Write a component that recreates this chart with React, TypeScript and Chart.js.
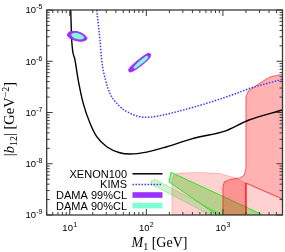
import React, { useEffect, useRef } from 'react';
import { Chart, registerables } from 'chart.js';
Chart.register(...registerables);

// ---- axis ranges & ticks ----
const xMin = 5, xMax = 6000;
const yMin = 1e-9, yMax = 1e-5;
const xDecades = [10, 100, 1000];
const xDecadeExps = ['1', '2', '3'];
const yDecades = [1e-9, 1e-8, 1e-7, 1e-6, 1e-5];
const yDecadeExps = ['-9', '-8', '-7', '-6', '-5'];

// ---- XENON100 (M1 [GeV], |b12| [GeV^-2]) ----
const xenonM = [10.3, 10.6, 11.7, 12.9, 15.0, 18.4, 22.5, 30.4, 45, 61, 101, 185, 372, 502, 1010, 2190, 6000];
const xenonB = [1e-5, 2.6e-6, 1.06e-6, 4.3e-7, 1.51e-7, 6.15e-8, 3.37e-8, 2.15e-8, 1.64e-8, 1.55e-8, 1.69e-8, 2.15e-8, 3.0e-8, 3.37e-8, 4.22e-8, 7.14e-8, 1.12e-7];

// ---- KIMS ----
const kimsM = [22.5, 24.8, 26.1, 29.3, 33.5, 43.1, 61.2, 101, 166, 304, 614, 1510, 2260, 6000];
const kimsB = [1e-5, 2.6e-6, 1.06e-6, 4.3e-7, 2.37e-7, 1.4e-7, 9.65e-8, 8.06e-8, 8.94e-8, 1.12e-7, 1.51e-7, 2.37e-7, 2.97e-7, 4.45e-7];

// ---- DAMA contours (two islands) ----
const dama99aM = [9.29, 9.78, 11.4, 13.6, 15.8, 16.8, 15.8, 13.6, 11.4, 9.78, 9.29];
const dama99aB = [3.25e-6, 3.67e-6, 3.84e-6, 3.64e-6, 3.18e-6, 2.78e-6, 2.54e-6, 2.46e-6, 2.60e-6, 2.90e-6, 3.25e-6];
const dama90aM = [10.5, 11.4, 12.8, 14.5, 15.3, 14.5, 12.4, 11.0, 10.5];
const dama90aB = [3.33e-6, 3.52e-6, 3.48e-6, 3.18e-6, 2.90e-6, 2.72e-6, 2.74e-6, 2.97e-6, 3.33e-6];
const dama99bM = [58.5, 61.2, 73.3, 90.5, 105, 113, 112, 99, 82.6, 69, 61.2, 58.5];
const dama99bB = [6.61e-7, 7.55e-7, 9.67e-7, 1.24e-6, 1.42e-6, 1.39e-6, 1.21e-6, 9.88e-7, 7.91e-7, 6.61e-7, 6.17e-7, 6.61e-7];
const dama90bM = [68, 75.5, 90.5, 102, 105, 96, 82.6, 71.1, 68];
const dama90bB = [7.55e-7, 9.04e-7, 1.13e-6, 1.27e-6, 1.18e-6, 1.01e-6, 8.45e-7, 7.22e-7, 7.55e-7];

// ---- shaded regions ----
const redM = [2470, 3050, 4120, 6000, 6000, 2000, 2000, 1000, 1000, 1040, 1240, 1670, 1900, 1990, 2000, 2000, 2150, 2470];
const redB = [3.0e-7, 3.77e-7, 4.93e-7, 5.6e-7, 2.05e-9, 4.2e-9, 1e-9, 1e-9, 3.4e-9, 4.4e-9, 4.95e-9, 5.3e-9, 6.0e-9, 8e-9, 1.1e-8, 2.0e-7, 2.65e-7, 3.0e-7];
const pinkM = [216, 216, 226, 252, 502, 916, 1440, 2000, 6000, 6000, 216];
const pinkB = [1e-9, 4.6e-9, 5.9e-9, 6.51e-9, 6.75e-9, 6.45e-9, 5.27e-9, 4.2e-9, 2.05e-9, 1e-9, 1e-9];
const greenM = [210, 3340, 837, 198, 210];
const greenB = [6.8e-9, 1e-9, 1e-9, 4.4e-9, 6.8e-9];
const paleGreenM = [115, 130, 990, 678, 115, 115];
const paleGreenB = [4.6e-9, 4.93e-9, 1e-9, 1e-9, 4.03e-9, 4.6e-9];

const legendLabels = ['XENON100', 'KIMS', 'DAMA 99%CL', 'DAMA 90%CL'];

const FRAME = '#3a3a3a';
const SANS = '"Liberation Sans", Arial, sans-serif';
const SERIF = '"Liberation Serif", "Times New Roman", serif';
const PURPLE = '#9b30ff';
const AQUA = '#7fffd4';
const KIMS_BLUE = '#3a3aff';

const pts = (xs: number[], ys: number[]) => xs.map((v, i) => ({ x: v, y: ys[i] }));

function drawPow(ctx: CanvasRenderingContext2D, base: string, exp: string, x: number, baseline: number, align: 'right' | 'center') {
  ctx.font = `9.5px ${SANS}`;
  const wb = ctx.measureText(base).width;
  ctx.font = `7px ${SANS}`;
  const we = ctx.measureText(exp).width;
  const total = wb + we + 0.3;
  const x0 = align === 'right' ? x - total : x - total / 2;
  ctx.textAlign = 'left';
  ctx.textBaseline = 'alphabetic';
  ctx.font = `9.5px ${SANS}`;
  ctx.fillText(base, x0, baseline);
  ctx.font = `7px ${SANS}`;
  ctx.fillText(exp, x0 + wb + 0.3, baseline - 4);
}

const decor = {
  id: 'decor',
  afterDraw(chart: any) {
    const ctx: CanvasRenderingContext2D = chart.ctx;
    const { left, right, top, bottom } = chart.chartArea;
    const xs = chart.scales.x;
    const ys = chart.scales.y;
    ctx.save();
    ctx.strokeStyle = FRAME;
    ctx.lineWidth = 1;
    // x ticks (top & bottom)
    for (let d = 1; d <= 1000; d *= 10) {
      for (let k = 1; k <= 9; k++) {
        const v = k * d;
        if (v < xMin || v > xMax) continue;
        const px = xs.getPixelForValue(v);
        const len = k === 1 ? 6 : 3;
        ctx.beginPath();
        ctx.moveTo(px, bottom); ctx.lineTo(px, bottom - len);
        ctx.moveTo(px, top); ctx.lineTo(px, top + len);
        ctx.stroke();
      }
    }
    // y ticks (left & right)
    for (let d = 1e-9; d <= 1.5e-5; d *= 10) {
      for (let k = 1; k <= 9; k++) {
        const v = k * d;
        if (v < yMin * 0.999 || v > yMax * 1.001) continue;
        const py = ys.getPixelForValue(v);
        const len = k === 1 ? 6 : 3;
        ctx.beginPath();
        ctx.moveTo(left, py); ctx.lineTo(left + len, py);
        ctx.moveTo(right, py); ctx.lineTo(right - len, py);
        ctx.stroke();
      }
    }
    // frame
    ctx.lineWidth = 1.3;
    ctx.strokeRect(left, top, right - left, bottom - top);

    // tick labels
    ctx.fillStyle = '#000';
    yDecades.forEach((v, i) => {
      const py = ys.getPixelForValue(v);
      drawPow(ctx, '10', yDecadeExps[i], 42.5, py + 3.4, 'right');
    });
    xDecades.forEach((v, i) => {
      const px = xs.getPixelForValue(v);
      drawPow(ctx, '10', xDecadeExps[i], px, 231, 'center');
    });

    // x title: M_1 [GeV]
    {
      let cx = 131.5;
      const by = 247;
      ctx.textAlign = 'left';
      ctx.textBaseline = 'alphabetic';
      ctx.font = `italic 14px ${SERIF}`;
      ctx.fillText('M', cx, by); cx += ctx.measureText('M').width;
      ctx.font = `10px ${SERIF}`;
      ctx.fillText('1', cx, by + 3); cx += ctx.measureText('1').width;
      ctx.font = `14px ${SERIF}`;
      ctx.fillText(' [GeV]', cx, by);
    }
    // y title: |b_12| [GeV^-2]
    {
      const pieces: [string, string, number][] = [
        ['|', `14.5px ${SERIF}`, 0],
        ['b', `italic 14.5px ${SERIF}`, 0],
        ['12', `10px ${SERIF}`, 3],
        ['|', `14.5px ${SERIF}`, 0],
        [' [GeV', `14.5px ${SERIF}`, 0],
        ['\u22122', `10px ${SERIF}`, -5.5],
        [']', `14.5px ${SERIF}`, 0],
      ];
      let total = 0;
      pieces.forEach(([t, f]) => { ctx.font = f; total += ctx.measureText(t).width; });
      ctx.save();
      ctx.translate(14, 119);
      ctx.rotate(-Math.PI / 2);
      let cx = -total / 2;
      pieces.forEach(([t, f, dy]) => {
        ctx.font = f;
        ctx.fillText(t, cx, dy);
        cx += ctx.measureText(t).width;
      });
      ctx.restore();
    }

    // legend
    const ly = [173.8, 184.4, 195, 205.6];
    const sx0 = 132.5, sx1 = 162.5;
    ctx.font = `11px ${SANS}`;
    ctx.textAlign = 'right';
    ctx.textBaseline = 'alphabetic';
    legendLabels.forEach((lab, i) => {
      ctx.fillStyle = '#000';
      ctx.fillText(lab, 127, ly[i] + 3.9);
    });
    ctx.lineWidth = 1.5;
    ctx.strokeStyle = '#000';
    ctx.beginPath(); ctx.moveTo(sx0, ly[0]); ctx.lineTo(sx1, ly[0]); ctx.stroke();
    ctx.strokeStyle = KIMS_BLUE;
    ctx.setLineDash([1.5, 1.5]);
    ctx.beginPath(); ctx.moveTo(sx0, ly[1]); ctx.lineTo(sx1, ly[1]); ctx.stroke();
    ctx.setLineDash([]);
    ctx.fillStyle = PURPLE;
    ctx.fillRect(sx0, ly[2] - 2.8, sx1 - sx0, 5.6);
    ctx.fillStyle = AQUA;
    ctx.fillRect(sx0, ly[3] - 2.8, sx1 - sx0, 5.6);
    ctx.restore();
  },
};

export default function App() {
  const ref = useRef<HTMLCanvasElement | null>(null);
  useEffect(() => {
    if (!ref.current) return;
    const base = { pointRadius: 0, pointHoverRadius: 0, showLine: true };
    const chart = new Chart(ref.current, {
      type: 'line',
      data: {
        datasets: [
          { ...base, label: 'pink', data: pts(pinkM, pinkB), fill: 'shape', backgroundColor: 'rgba(255,0,0,0.18)', borderColor: 'rgba(255,0,0,0.22)', borderWidth: 1, tension: 0, order: 10 },
          { ...base, label: 'paleGreen', data: pts(paleGreenM, paleGreenB), fill: 'shape', backgroundColor: 'rgba(0,200,0,0.18)', borderColor: 'rgba(0,220,0,0.3)', borderWidth: 1, tension: 0, order: 9 },
          { ...base, label: 'green', data: pts(greenM, greenB), fill: 'shape', backgroundColor: 'rgba(40,200,0,0.33)', borderColor: 'rgb(40,230,40)', borderWidth: 1, tension: 0, order: 8 },
          { ...base, label: 'red', data: pts(redM, redB), fill: 'shape', backgroundColor: 'rgba(255,0,0,0.3)', borderColor: 'rgba(255,0,0,0.6)', borderWidth: 1, tension: 0, order: 7 },
          { ...base, label: 'XENON100', data: pts(xenonM, xenonB), fill: false, borderColor: '#000', borderWidth: 1.4, cubicInterpolationMode: 'monotone', order: 3 },
          { ...base, label: 'KIMS', data: pts(kimsM, kimsB), fill: false, borderColor: KIMS_BLUE, borderWidth: 1.5, borderDash: [1.5, 1.5], cubicInterpolationMode: 'monotone', order: 2 },
          { ...base, label: 'DAMA 99%CL a', data: pts(dama99aM, dama99aB), fill: 'shape', backgroundColor: PURPLE, borderColor: PURPLE, borderWidth: 1, tension: 0.4, order: 1 },
          { ...base, label: 'DAMA 90%CL a', data: pts(dama90aM, dama90aB), fill: 'shape', backgroundColor: AQUA, borderColor: AQUA, borderWidth: 0.5, tension: 0.4, order: 0 },
          { ...base, label: 'DAMA 99%CL b', data: pts(dama99bM, dama99bB), fill: 'shape', backgroundColor: PURPLE, borderColor: PURPLE, borderWidth: 1, tension: 0.4, order: 1 },
          { ...base, label: 'DAMA 90%CL b', data: pts(dama90bM, dama90bB), fill: 'shape', backgroundColor: AQUA, borderColor: AQUA, borderWidth: 0.5, tension: 0.4, order: 0 },
        ],
      },
      options: {
        responsive: false,
        animation: false,
        events: [],
        layout: { padding: { left: 46.7, right: 2.5, top: 10, bottom: 37 } },
        scales: {
          x: { type: 'logarithmic', min: xMin, max: xMax, display: false },
          y: { type: 'logarithmic', min: yMin, max: yMax, display: false },
        },
        plugins: { legend: { display: false }, tooltip: { enabled: false } },
      } as any,
      plugins: [decor],
    } as any);
    return () => chart.destroy();
  }, []);
  return (
    <div style={{ position: 'fixed', left: 0, top: 0, width: 285, height: 252, background: '#fff' }}>
      <canvas ref={ref} width={285} height={252} style={{ width: 285, height: 252, display: 'block' }} />
    </div>
  );
}
